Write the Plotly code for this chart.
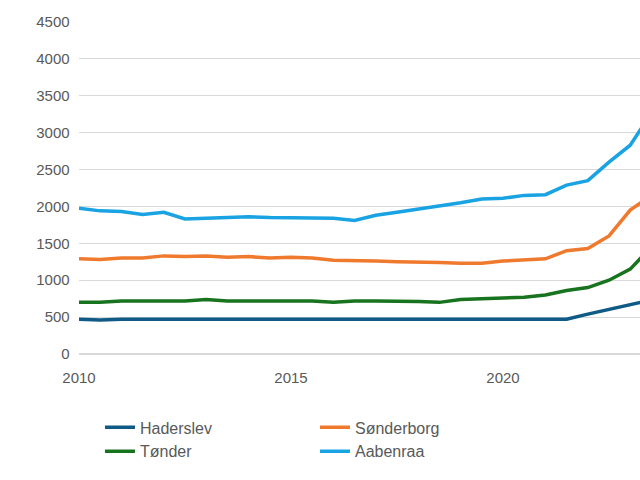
import plotly.graph_objects as go

# quarterly points
years = [2010, 2010.5, 2011, 2011.5, 2012, 2012.5, 2013, 2013.5, 2014, 2014.5, 2015, 2015.5,
         2016, 2016.5, 2017, 2017.5, 2018, 2018.5, 2019, 2019.5, 2020, 2020.5, 2021, 2021.5,
         2022, 2022.5, 2023, 2023.25, 2023.5, 2023.75, 2024, 2024.5]
haderslev = [470, 460, 470, 470, 470, 470, 470, 460, 470, 460, 460, 460,
             460, 460, 470, 470, 470, 460, 470, 470, 470, 470, 470, 470,
             540, 600, 660, 700, 740, 780, 820, 860]
soenderborg = [1290, 1280, 1300, 1300, 1330, 1320, 1330, 1310, 1320, 1300, 1310, 1300,
               1270, 1270, 1260, 1250, 1250, 1240, 1230, 1230, 1260, 1270, 1290, 1400,
               1430, 1600, 1950, 2050, 2150, 2250, 2350, 2420]
toender = [700, 700, 720, 720, 720, 720, 740, 720, 720, 720, 720, 720,
           700, 720, 720, 720, 710, 700, 740, 750, 760, 770, 800, 860,
           900, 1000, 1150, 1300, 1360, 1400, 1450, 1500]
aabenraa = [1975, 1940, 1930, 1890, 1920, 1830, 1840, 1850, 1860, 1850, 1850, 1840,
            1840, 1810, 1880, 1920, 1960, 2000, 2050, 2100, 2110, 2150, 2160, 2290,
            2350, 2600, 2830, 3050, 3200, 3270, 3350, 3400]

names = ["Haderslev", "Sønderborg", "Tønder", "Aabenraa"]
series = [haderslev, soenderborg, toender, aabenraa]
colors = ["#0f5a86", "#ef7a2e", "#18731f", "#1aa3e2"]

fig = go.Figure()
for n, s, c in zip(names, series, colors):
    fig.add_trace(go.Scatter(x=years, y=s, name=n, mode="lines",
                             line=dict(color=c, width=3.5)))

fig.update_layout(
    width=900, height=480, autosize=False,
    plot_bgcolor="white", paper_bgcolor="white",
    margin=dict(l=79, r=185, t=22, b=103),
    font=dict(family="Liberation Sans, Arial", size=15, color="#595959"),
    legend=dict(orientation="h", x=0.033, xanchor="left", y=-0.17, yanchor="top",
                entrywidth=170, entrywidthmode="pixels", font=dict(size=16)),
    xaxis=dict(range=[2010, 2025], tickvals=[2010, 2015, 2020, 2025], showgrid=False,
               ticks="outside", ticklen=10, tickcolor="white", zeroline=False, showline=False),
    yaxis=dict(range=[0, 4500], dtick=500, showgrid=True, gridcolor="#d9d9d9",
               zeroline=True, zerolinecolor="#d9d9d9", ticks="", ticksuffix="  "),
)
fig.update_layout(margin=dict(b=103 - 32))

fig.write_html("out.html", config={"displayModeBar": False},
               post_script="document.body.style.overflow='hidden';document.body.style.margin='0';")
